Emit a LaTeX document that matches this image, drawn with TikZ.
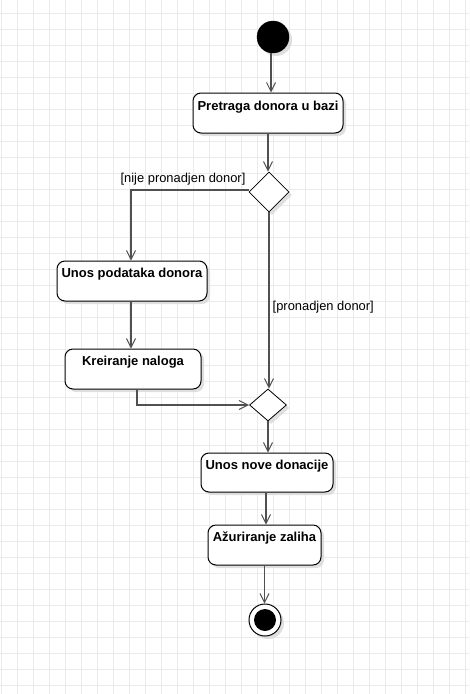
\documentclass[tikz,border=0pt]{standalone}
\usepackage{fontspec}
\setmainfont{Liberation Sans}
\usetikzlibrary{arrows.meta,shapes.geometric,shadows}
\definecolor{gridc}{HTML}{EBEBEB}
\definecolor{connc}{HTML}{505050}
\definecolor{shadc}{HTML}{D8D8D8}
\tikzset{
  gridline/.style={draw=gridc, line width=1pt},
  shad/.style={drop shadow={shadow xshift=3pt, shadow yshift=-3pt, fill=shadc, opacity=0.8}},
  actbox/.style={draw=black, line width=1pt, rounded corners=8pt, fill=white, shad,
    inner sep=0pt},
  decis/.style={diamond, draw=black, line width=0.8pt, fill=white, shad, inner sep=0pt},
  conn/.style={draw=connc, line width=1.2pt, -{Straight Barb[length=9pt,width=9pt,line width=1pt]}},
  lbl/.style={font=\fontsize{12.9}{15}\selectfont, text=black, inner sep=0pt},
  boxtxt/.style={font=\fontsize{13}{15}\selectfont\bfseries, text=black, inner sep=0pt}
}
\begin{document}
\begin{tikzpicture}[x=1pt,y=-1pt]
\useasboundingbox (0,0) rectangle (469,694);
\fill[white] (0,0) rectangle (469,694);
\foreach \i in {0,...,29} \draw[gridline] (1+16*\i,0) -- (1+16*\i,694);
\foreach \j in {0,...,42} \draw[gridline] (0,13.5+16*\j) -- (469,13.5+16*\j);

% start
\node[circle, fill=black, draw=black, minimum size=32pt, inner sep=0pt, shad] (start) at (273,37) {};

% activities
\node[actbox, minimum width=150pt, minimum height=40pt] (b1) at (268,113) {};
\node[boxtxt] (t1) at (268,107) {Pretraga donora u bazi};

\node[decis, minimum width=40pt, minimum height=40pt] (d1) at (269,192) {};

\node[actbox, minimum width=150pt, minimum height=40pt] (b2) at (132,281) {};
\node[boxtxt] (t2) at (132,274) {Unos podataka donora};

\node[actbox, minimum width=136pt, minimum height=40pt] (b3) at (133,369) {};
\node[boxtxt] (t3) at (133,362) {Kreiranje naloga};

\node[decis, minimum width=37pt, minimum height=32pt] (d2) at (268,405) {};

\node[actbox, minimum width=132pt, minimum height=39pt] (b4) at (267,472.5) {};
\node[boxtxt] (t4) at (267,466) {Unos nove donacije};

\node[actbox, minimum width=113pt, minimum height=40pt] (b5) at (264.5,545) {};
\node[boxtxt] (t5) at (264.5,538) {Ažuriranje zaliha};

% end
\node[circle, draw=black, line width=1pt, fill=white, minimum size=32pt, inner sep=0pt, shad] (end) at (265,620) {};
\node[circle, fill=black, minimum size=22pt, inner sep=0pt] (endin) at (end.center) {};

% labels
\node[lbl] (l1) at (183,179) {[nije pronadjen donor]};
\node[lbl, anchor=west] (l2) at (272.5,307) {[pronadjen donor]};

% connectors
\draw[conn] ([xshift=-2pt]start.south) -- ([xshift=-2pt]start.south |- b1.north);
\draw[conn] (b1.south) -- (b1.south |- d1.north);
\draw[conn] ([yshift=2pt]d1.west) -| ([xshift=-1pt]b2.north);
\draw[conn] ([xshift=-1pt]b2.south) -- ([xshift=-1pt]b2.south |- b3.north);
\draw[conn] ([xshift=4pt]b3.south) |- (d2.west);
\draw[conn] (d1.south) -- (d1.south |- d2.north);
\draw[conn] (d2.south) -- (d2.south |- b4.north);
\draw[conn] ([xshift=-1pt]b4.south) -- ([xshift=-1pt]b4.south |- b5.north);
\draw[conn] (b5.south) -- (b5.south |- end.north);
\end{tikzpicture}
\end{document}
